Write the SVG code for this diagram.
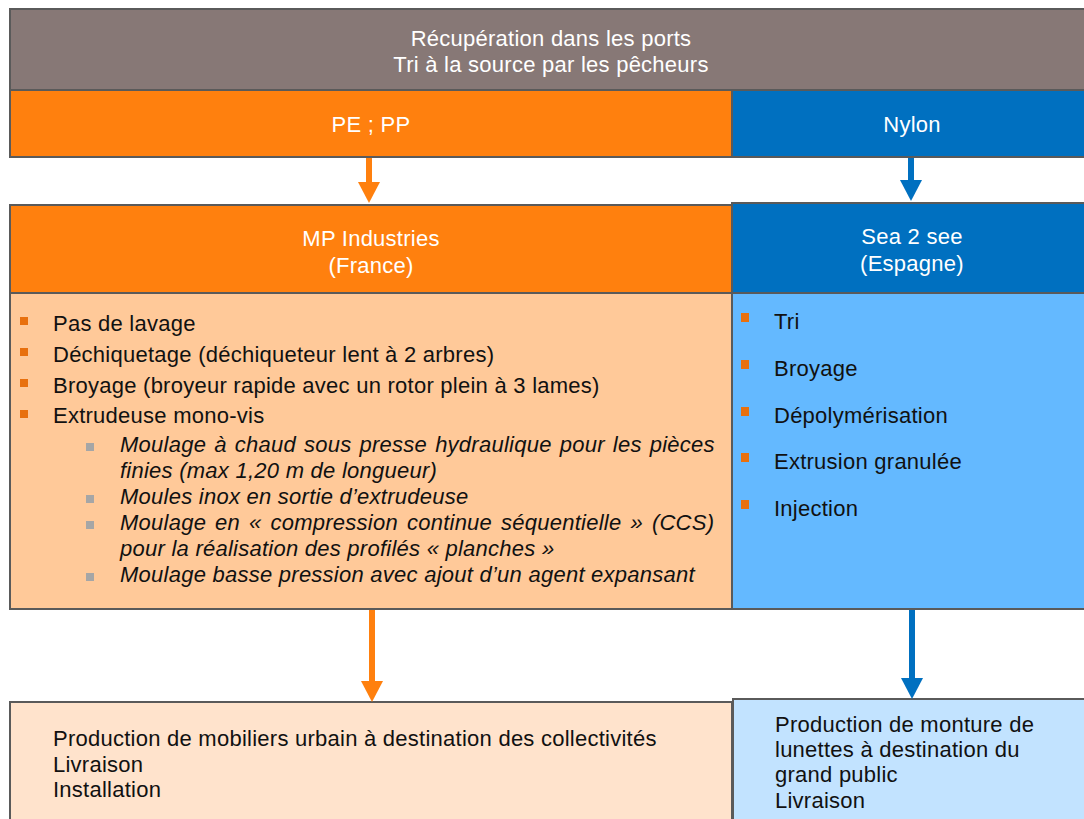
<svg xmlns="http://www.w3.org/2000/svg" width="1084" height="819" viewBox="0 0 1084 819">
<style>
.box{stroke:#5a5a5a;stroke-width:2}
.t{font-family:"Liberation Sans",Arial,Helvetica,sans-serif;font-size:22px;fill:#111;letter-spacing:0.25px}
.w{fill:#ffffff;text-anchor:middle}
.i{font-style:italic}
.ob{fill:#E8700E}
.gb{fill:#A6A6A6}
</style>
<defs>
<marker id="ho" markerUnits="userSpaceOnUse" markerWidth="21" markerHeight="22" refX="0" refY="11" orient="auto"><path d="M0,0 L21,11 L0,22 z" fill="#FF800E"/></marker>
<marker id="hb" markerUnits="userSpaceOnUse" markerWidth="21" markerHeight="22" refX="0" refY="11" orient="auto"><path d="M0,0 L21,11 L0,22 z" fill="#0070C0"/></marker>
</defs>
<rect width="1084" height="819" fill="#ffffff"/>

<g id="source">
<rect class="box" x="10" y="9" width="1082" height="81" fill="#877876"/>
<text class="t w" x="551" y="46">Récupération dans les ports</text>
<text class="t w" x="551" y="72">Tri à la source par les pêcheurs</text>
</g>

<g id="pe-pp">
<rect class="box" x="10" y="90" width="722" height="67" fill="#FF800E"/>
<text class="t w" x="371" y="132">PE ; PP</text>
</g>

<g id="nylon">
<rect class="box" x="732" y="90" width="360" height="67" fill="#0070C0"/>
<text class="t w" x="912" y="132">Nylon</text>
</g>

<g id="mp-industries">
<rect class="box" x="10" y="205" width="722" height="88" fill="#FF800E"/>
<text class="t w" x="371" y="246">MP Industries</text>
<text class="t w" x="371" y="273">(France)</text>
<rect class="box" x="10" y="293" width="722" height="316" fill="#FFC999"/>
<rect class="ob" x="20" y="317" width="8" height="8"/>
<text class="t" x="53" y="331">Pas de lavage</text>
<rect class="ob" x="20" y="348" width="8" height="8"/>
<text class="t" x="53" y="362">Déchiquetage (déchiqueteur lent à 2 arbres)</text>
<rect class="ob" x="20" y="379" width="8" height="8"/>
<text class="t" x="53" y="393">Broyage (broyeur rapide avec un rotor plein à 3 lames)</text>
<rect class="ob" x="20" y="410" width="8" height="8"/>
<text class="t" x="53" y="423">Extrudeuse mono-vis</text>
<rect class="gb" x="86" y="443" width="8" height="8"/>
<text class="t i" x="120" y="452" word-spacing="1.7">Moulage à chaud sous presse hydraulique pour les pièces</text>
<text class="t i" x="120" y="478">finies (max 1,20 m de longueur)</text>
<rect class="gb" x="86" y="495" width="8" height="8"/>
<text class="t i" x="120" y="504">Moules inox en sortie d’extrudeuse</text>
<rect class="gb" x="86" y="521" width="8" height="8"/>
<text class="t i" x="120" y="530" word-spacing="2.6">Moulage en « compression continue séquentielle » (CCS)</text>
<text class="t i" x="120" y="556">pour la réalisation des profilés « planches »</text>
<rect class="gb" x="86" y="573" width="8" height="8"/>
<text class="t i" x="120" y="582">Moulage basse pression avec ajout d’un agent expansant</text>
</g>

<g id="sea-2-see">
<rect class="box" x="732" y="203" width="360" height="90" fill="#0070C0"/>
<text class="t w" x="912" y="244">Sea 2 see</text>
<text class="t w" x="912" y="271">(Espagne)</text>
<rect class="box" x="732" y="293" width="360" height="316" fill="#64B9FF"/>
<rect class="ob" x="741" y="313" width="8" height="9"/>
<text class="t" x="774" y="329">Tri</text>
<rect class="ob" x="741" y="360" width="8" height="9"/>
<text class="t" x="774" y="376">Broyage</text>
<rect class="ob" x="741" y="407" width="8" height="9"/>
<text class="t" x="774" y="423">Dépolymérisation</text>
<rect class="ob" x="741" y="453" width="8" height="9"/>
<text class="t" x="774" y="469">Extrusion granulée</text>
<rect class="ob" x="741" y="500" width="8" height="9"/>
<text class="t" x="774" y="516">Injection</text>
</g>

<g id="output-mobilier">
<rect class="box" x="10" y="702" width="722" height="130" fill="#FFE3CC"/>
<text class="t" x="53" y="746">Production de mobiliers urbain à destination des collectivités</text>
<text class="t" x="53" y="772">Livraison</text>
<text class="t" x="53" y="797">Installation</text>
</g>

<g id="output-lunettes">
<rect class="box" x="733" y="699" width="360" height="130" fill="#C2E3FF"/>
<text class="t" x="775" y="732">Production de monture de</text>
<text class="t" x="775" y="757">lunettes à destination du</text>
<text class="t" x="775" y="782">grand public</text>
<text class="t" x="775" y="808">Livraison</text>
</g>

<g id="connectors">
<line x1="369" y1="158" x2="369" y2="182" stroke="#FF800E" stroke-width="6" marker-end="url(#ho)"/>
<line x1="911" y1="158" x2="911" y2="180" stroke="#0070C0" stroke-width="6" marker-end="url(#hb)"/>
<line x1="372" y1="610" x2="372" y2="681" stroke="#FF800E" stroke-width="6" marker-end="url(#ho)"/>
<line x1="912" y1="610" x2="912" y2="678" stroke="#0070C0" stroke-width="6" marker-end="url(#hb)"/>
</g>
</svg>
